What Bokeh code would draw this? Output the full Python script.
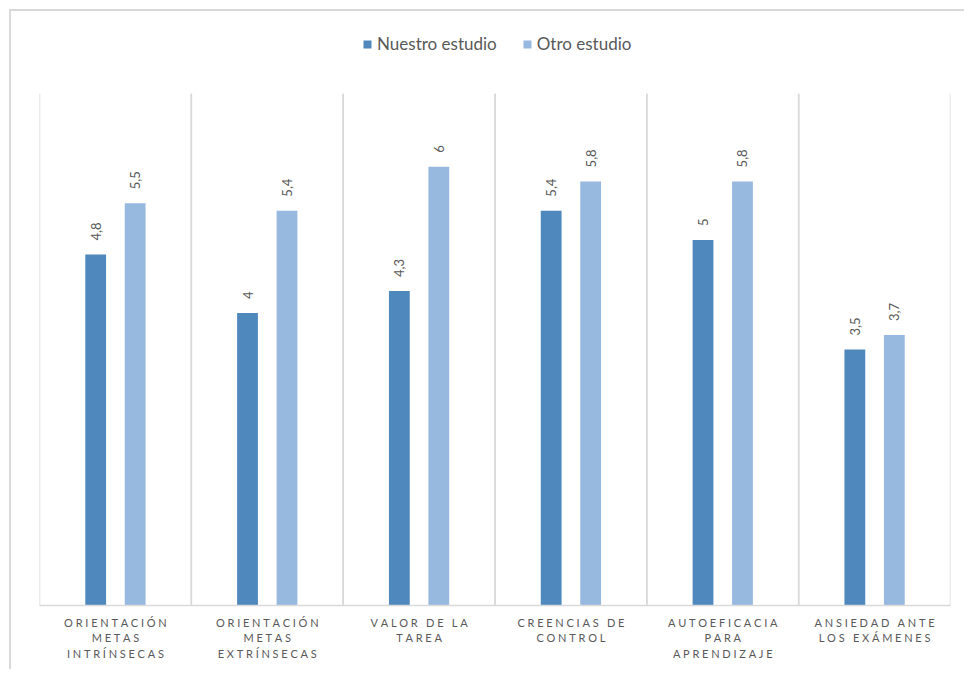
from math import pi

from bokeh.core.properties import value
from bokeh.embed import file_html
from bokeh.models import ColumnDataSource, FactorRange, LabelSet, Legend, LegendItem
from bokeh.plotting import figure
from bokeh.resources import INLINE
from bokeh.transform import dodge

# ---- data -------------------------------------------------------------
categories = [
    "ORIENTACIÓN\nMETAS\nINTRÍNSECAS",
    "ORIENTACIÓN\nMETAS\nEXTRÍNSECAS",
    "VALOR DE LA\nTAREA",
    "CREENCIAS DE\nCONTROL",
    "AUTOEFICACIA\nPARA\nAPRENDIZAJE",
    "ANSIEDAD ANTE\nLOS EXÁMENES",
]
series_names = ["Nuestro estudio", "Otro estudio"]
nuestro = [4.8, 4.0, 4.3, 5.4, 5.0, 3.5]
otro = [5.5, 5.4, 6.0, 5.8, 5.8, 3.7]
value_max = 7  # top of the value scale

# ---- styling ----------------------------------------------------------
DARK = "#4F88BC"
LIGHT = "#97B9E0"
GREY_TEXT = "#595959"
GREY_LINE = "#D9D9D9"
FONT = "Lato"


def comma(v):
    return f"{v:g}".replace(".", ",")


def letter_spaced(label):
    # wide tracking for the category captions
    gap = "\u2009\u2009"
    return "\n".join(gap.join(line) for line in label.split("\n"))


factors = [letter_spaced(c) for c in categories]

source = ColumnDataSource(dict(
    cat=factors,
    nuestro=nuestro,
    otro=otro,
    nuestro_txt=[comma(v) for v in nuestro],
    otro_txt=[comma(v) for v in otro],
    y0=[0] * len(factors),
    y1=[value_max] * len(factors),
))

# the frame reaches up to the legend; separators stop at value_max
p = figure(
    x_range=FactorRange(factors=factors, range_padding=0),
    y_range=(0, 8),
    width=955, height=660,
    output_backend="svg", toolbar_location=None,
    min_border_left=28, min_border_right=16,
    min_border_top=9, min_border_bottom=66,
)
p.styles = {
    "margin-left": "9px", "margin-top": "9px",
    "border-left": f"2px solid {GREY_LINE}",
    "border-top": f"2px solid {GREY_LINE}",
}
p.outline_line_color = None
p.xgrid.visible = False
p.ygrid.visible = False
p.yaxis.visible = False

# category separators
for off in (-0.5, 0.5):
    p.segment(x0=dodge("cat", off, range=p.x_range), x1=dodge("cat", off, range=p.x_range),
              y0="y0", y1="y1", source=source, line_color=GREY_LINE, line_width=1.5)

r1 = p.vbar(x=dodge("cat", -0.13, range=p.x_range), top="nuestro", width=0.137,
            source=source, fill_color=DARK, line_color=None)
r2 = p.vbar(x=dodge("cat", 0.13, range=p.x_range), top="otro", width=0.137,
            source=source, fill_color=LIGHT, line_color=None)

for off, col, txt in ((-0.13, "nuestro", "nuestro_txt"), (0.13, "otro", "otro_txt")):
    p.add_layout(LabelSet(
        x=dodge("cat", off, range=p.x_range), y=col, text=txt, source=source,
        angle=pi / 2, y_offset=14, text_align="left", text_baseline="middle",
        text_font=value(FONT), text_font_size="13px", text_color=GREY_TEXT,
    ))

ax = p.xaxis[0]
ax.axis_line_color = GREY_LINE
ax.axis_line_width = 1.5
ax.major_tick_line_color = None
ax.minor_tick_line_color = None
ax.major_label_standoff = 4
ax.major_label_text_font = FONT
ax.major_label_text_font_size = "11px"
ax.major_label_text_color = GREY_TEXT

legend = Legend(
    items=[LegendItem(label=series_names[0], renderers=[r1]),
           LegendItem(label=series_names[1], renderers=[r2])],
    orientation="horizontal", location=(323, 551),
    border_line_color=None, background_fill_alpha=0,
    glyph_width=10, glyph_height=10, label_standoff=5, spacing=25,
    padding=0, margin=0,
    label_text_font=FONT, label_text_font_size="17px", label_text_color=GREY_TEXT,
)
p.add_layout(legend)

open("out.html", "w").write(file_html(p, INLINE))
